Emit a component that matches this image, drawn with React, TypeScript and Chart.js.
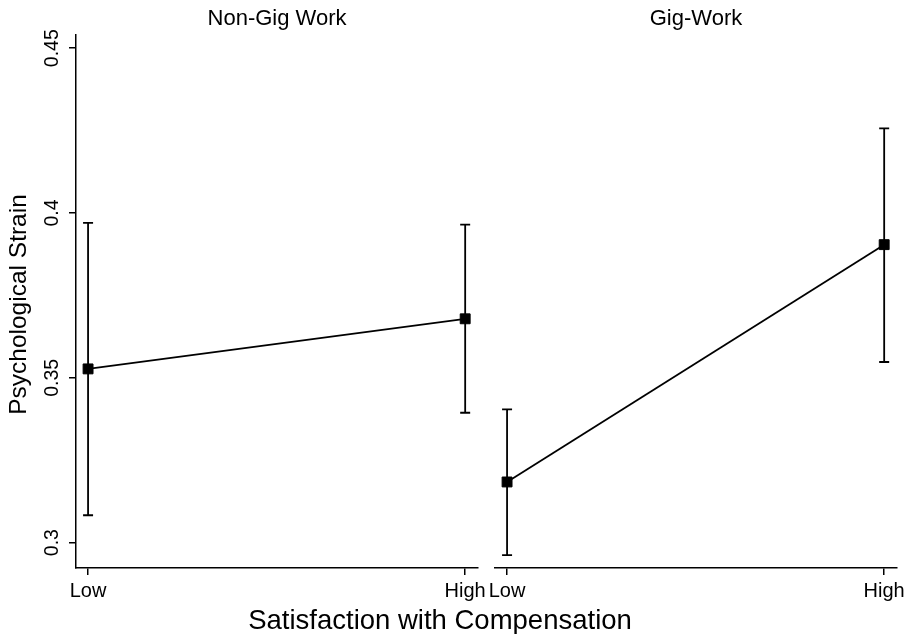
import React, { useEffect, useRef } from "react";
import { Chart, registerables } from "chart.js";

Chart.register(...registerables);

// ---- data ----
const PANEL_TITLES = ["Non-Gig Work", "Gig-Work"];
const X_LABELS = ["Low", "High"];
const X_VALUES = [0, 1];
const Y_TICKS = [0.3, 0.35, 0.4, 0.45];
const Y_TICK_LABELS = ["0.3", "0.35", "0.4", "0.45"];
const NON_GIG_MEAN = [0.3527, 0.3679];
const NON_GIG_LOWER = [0.3083, 0.3394];
const NON_GIG_UPPER = [0.397, 0.3965];
const GIG_MEAN = [0.3184, 0.3904];
const GIG_LOWER = [0.2962, 0.3548];
const GIG_UPPER = [0.3404, 0.4257];
const Y_TITLE = "Psychological Strain";
const X_TITLE = "Satisfaction with Compensation";

// ---- layout / style ----
const W = 905;
const H = 634;
const FONT = '"Liberation Sans", Arial, Helvetica, sans-serif';
const Y_MIN = 0.2923;
const Y_MAX = 0.454;
const X_MIN = -0.032;
const X_MAX = 1.034;

type PanelProps = {
  title: string;
  mean: number[];
  lower: number[];
  upper: number[];
  areaLeft: number;
  areaRight: number;
  primary: boolean;
};

function Panel({ title, mean, lower, upper, areaLeft, areaRight, primary }: PanelProps) {
  const ref = useRef<HTMLCanvasElement | null>(null);

  useEffect(() => {
    if (!ref.current) return;

    const errorBars = {
      id: "errorBars",
      beforeDatasetsDraw(chart: any) {
        const ctx = chart.ctx;
        const xs = chart.scales.x;
        const ys = chart.scales.y;
        ctx.save();
        ctx.strokeStyle = "#000";
        ctx.lineWidth = 1.8;
        X_VALUES.forEach((xv, i) => {
          const px = xs.getPixelForValue(xv);
          const top = ys.getPixelForValue(upper[i]);
          const bot = ys.getPixelForValue(lower[i]);
          ctx.beginPath();
          ctx.moveTo(px, top);
          ctx.lineTo(px, bot);
          ctx.moveTo(px - 5, top);
          ctx.lineTo(px + 5, top);
          ctx.moveTo(px - 5, bot);
          ctx.lineTo(px + 5, bot);
          ctx.stroke();
        });
        ctx.restore();
      },
    };

    const texts = {
      id: "texts",
      afterDraw(chart: any) {
        const ctx = chart.ctx;
        const ca = chart.chartArea;
        ctx.save();
        ctx.fillStyle = "#000";
        ctx.textAlign = "center";
        ctx.textBaseline = "middle";
        ctx.font = `22px ${FONT}`;
        ctx.fillText(title, (ca.left + ca.right) / 2, 19);
        if (primary) {
          const ys = chart.scales.y;
          ctx.font = `19.5px ${FONT}`;
          Y_TICKS.forEach((v, i) => {
            const py = ys.getPixelForValue(v);
            ctx.save();
            ctx.translate(53, py);
            ctx.rotate(-Math.PI / 2);
            ctx.fillText(Y_TICK_LABELS[i], 0, 0);
            ctx.restore();
          });
          ctx.font = `24.5px ${FONT}`;
          ctx.save();
          ctx.translate(19, (ca.top + ca.bottom) / 2 + 3);
          ctx.rotate(-Math.PI / 2);
          ctx.fillText(Y_TITLE, 0, 0);
          ctx.restore();
          ctx.font = `27.5px ${FONT}`;
          ctx.fillText(X_TITLE, 440, 621);
        }
        ctx.restore();
      },
    };

    const chart = new Chart(ref.current, {
      type: "line",
      data: {
        datasets: [
          {
            data: X_VALUES.map((x, i) => ({ x, y: mean[i] })),
            borderColor: "#000",
            borderWidth: 1.8,
            pointStyle: "rect",
            pointRadius: 7,
            pointBackgroundColor: "#000",
            pointBorderColor: "#000",
            pointBorderWidth: 1,
            tension: 0,
            fill: false,
          },
        ],
      },
      options: {
        responsive: false,
        animation: false,
        devicePixelRatio: 1,
        layout: {
          padding: {
            left: primary ? 0 : areaLeft,
            right: W - areaRight,
            top: 35,
            bottom: 26,
          },
        },
        plugins: {
          legend: { display: false },
          tooltip: { enabled: false },
          title: { display: false },
        },
        scales: {
          x: {
            type: "linear",
            min: X_MIN,
            max: X_MAX,
            afterBuildTicks: (s: any) => {
              s.ticks = X_VALUES.map((v) => ({ value: v }));
            },
            afterFit: (s: any) => {
              s.height = 40;
              s.paddingLeft = 0;
              s.paddingRight = 0;
            },
            ticks: {
              autoSkip: false,
              maxRotation: 0,
              minRotation: 0,
              padding: 4,
              color: "#000",
              font: { family: FONT, size: 20 },
              callback: (v: any) => X_LABELS[X_VALUES.indexOf(Number(v))] ?? "",
            },
            grid: {
              display: true,
              drawOnChartArea: false,
              drawTicks: true,
              tickLength: 7,
              color: "#000",
              lineWidth: 1.5,
            },
            border: { display: true, color: "#000", width: 1.5 },
          },
          y: {
            type: "linear",
            display: primary,
            min: Y_MIN,
            max: Y_MAX,
            afterBuildTicks: (s: any) => {
              s.ticks = Y_TICKS.map((v) => ({ value: v }));
            },
            afterFit: (s: any) => {
              if (primary) {
                s.width = areaLeft;
              } else {
                s.width = 0;
              }
              s.paddingTop = 0;
              s.paddingBottom = 0;
            },
            ticks: { display: false },
            grid: {
              display: true,
              drawOnChartArea: false,
              drawTicks: true,
              tickLength: 7,
              color: "#000",
              lineWidth: 1.5,
            },
            border: { display: true, color: "#000", width: 1.5 },
          },
        },
      } as any,
      plugins: [errorBars, texts],
    });

    return () => chart.destroy();
  }, []);

  return (
    <canvas
      ref={ref}
      width={W}
      height={H}
      style={{ position: "absolute", left: 0, top: 0, width: W, height: H }}
    />
  );
}

export default function App() {
  return (
    <div
      style={{
        position: "absolute",
        left: 0,
        top: 0,
        width: W,
        height: H,
        background: "#fff",
        overflow: "hidden",
      }}
    >
      <Panel
        title={PANEL_TITLES[0]}
        mean={NON_GIG_MEAN}
        lower={NON_GIG_LOWER}
        upper={NON_GIG_UPPER}
        areaLeft={76}
        areaRight={478}
        primary={true}
      />
      <Panel
        title={PANEL_TITLES[1]}
        mean={GIG_MEAN}
        lower={GIG_LOWER}
        upper={GIG_UPPER}
        areaLeft={495}
        areaRight={897}
        primary={false}
      />
    </div>
  );
}
